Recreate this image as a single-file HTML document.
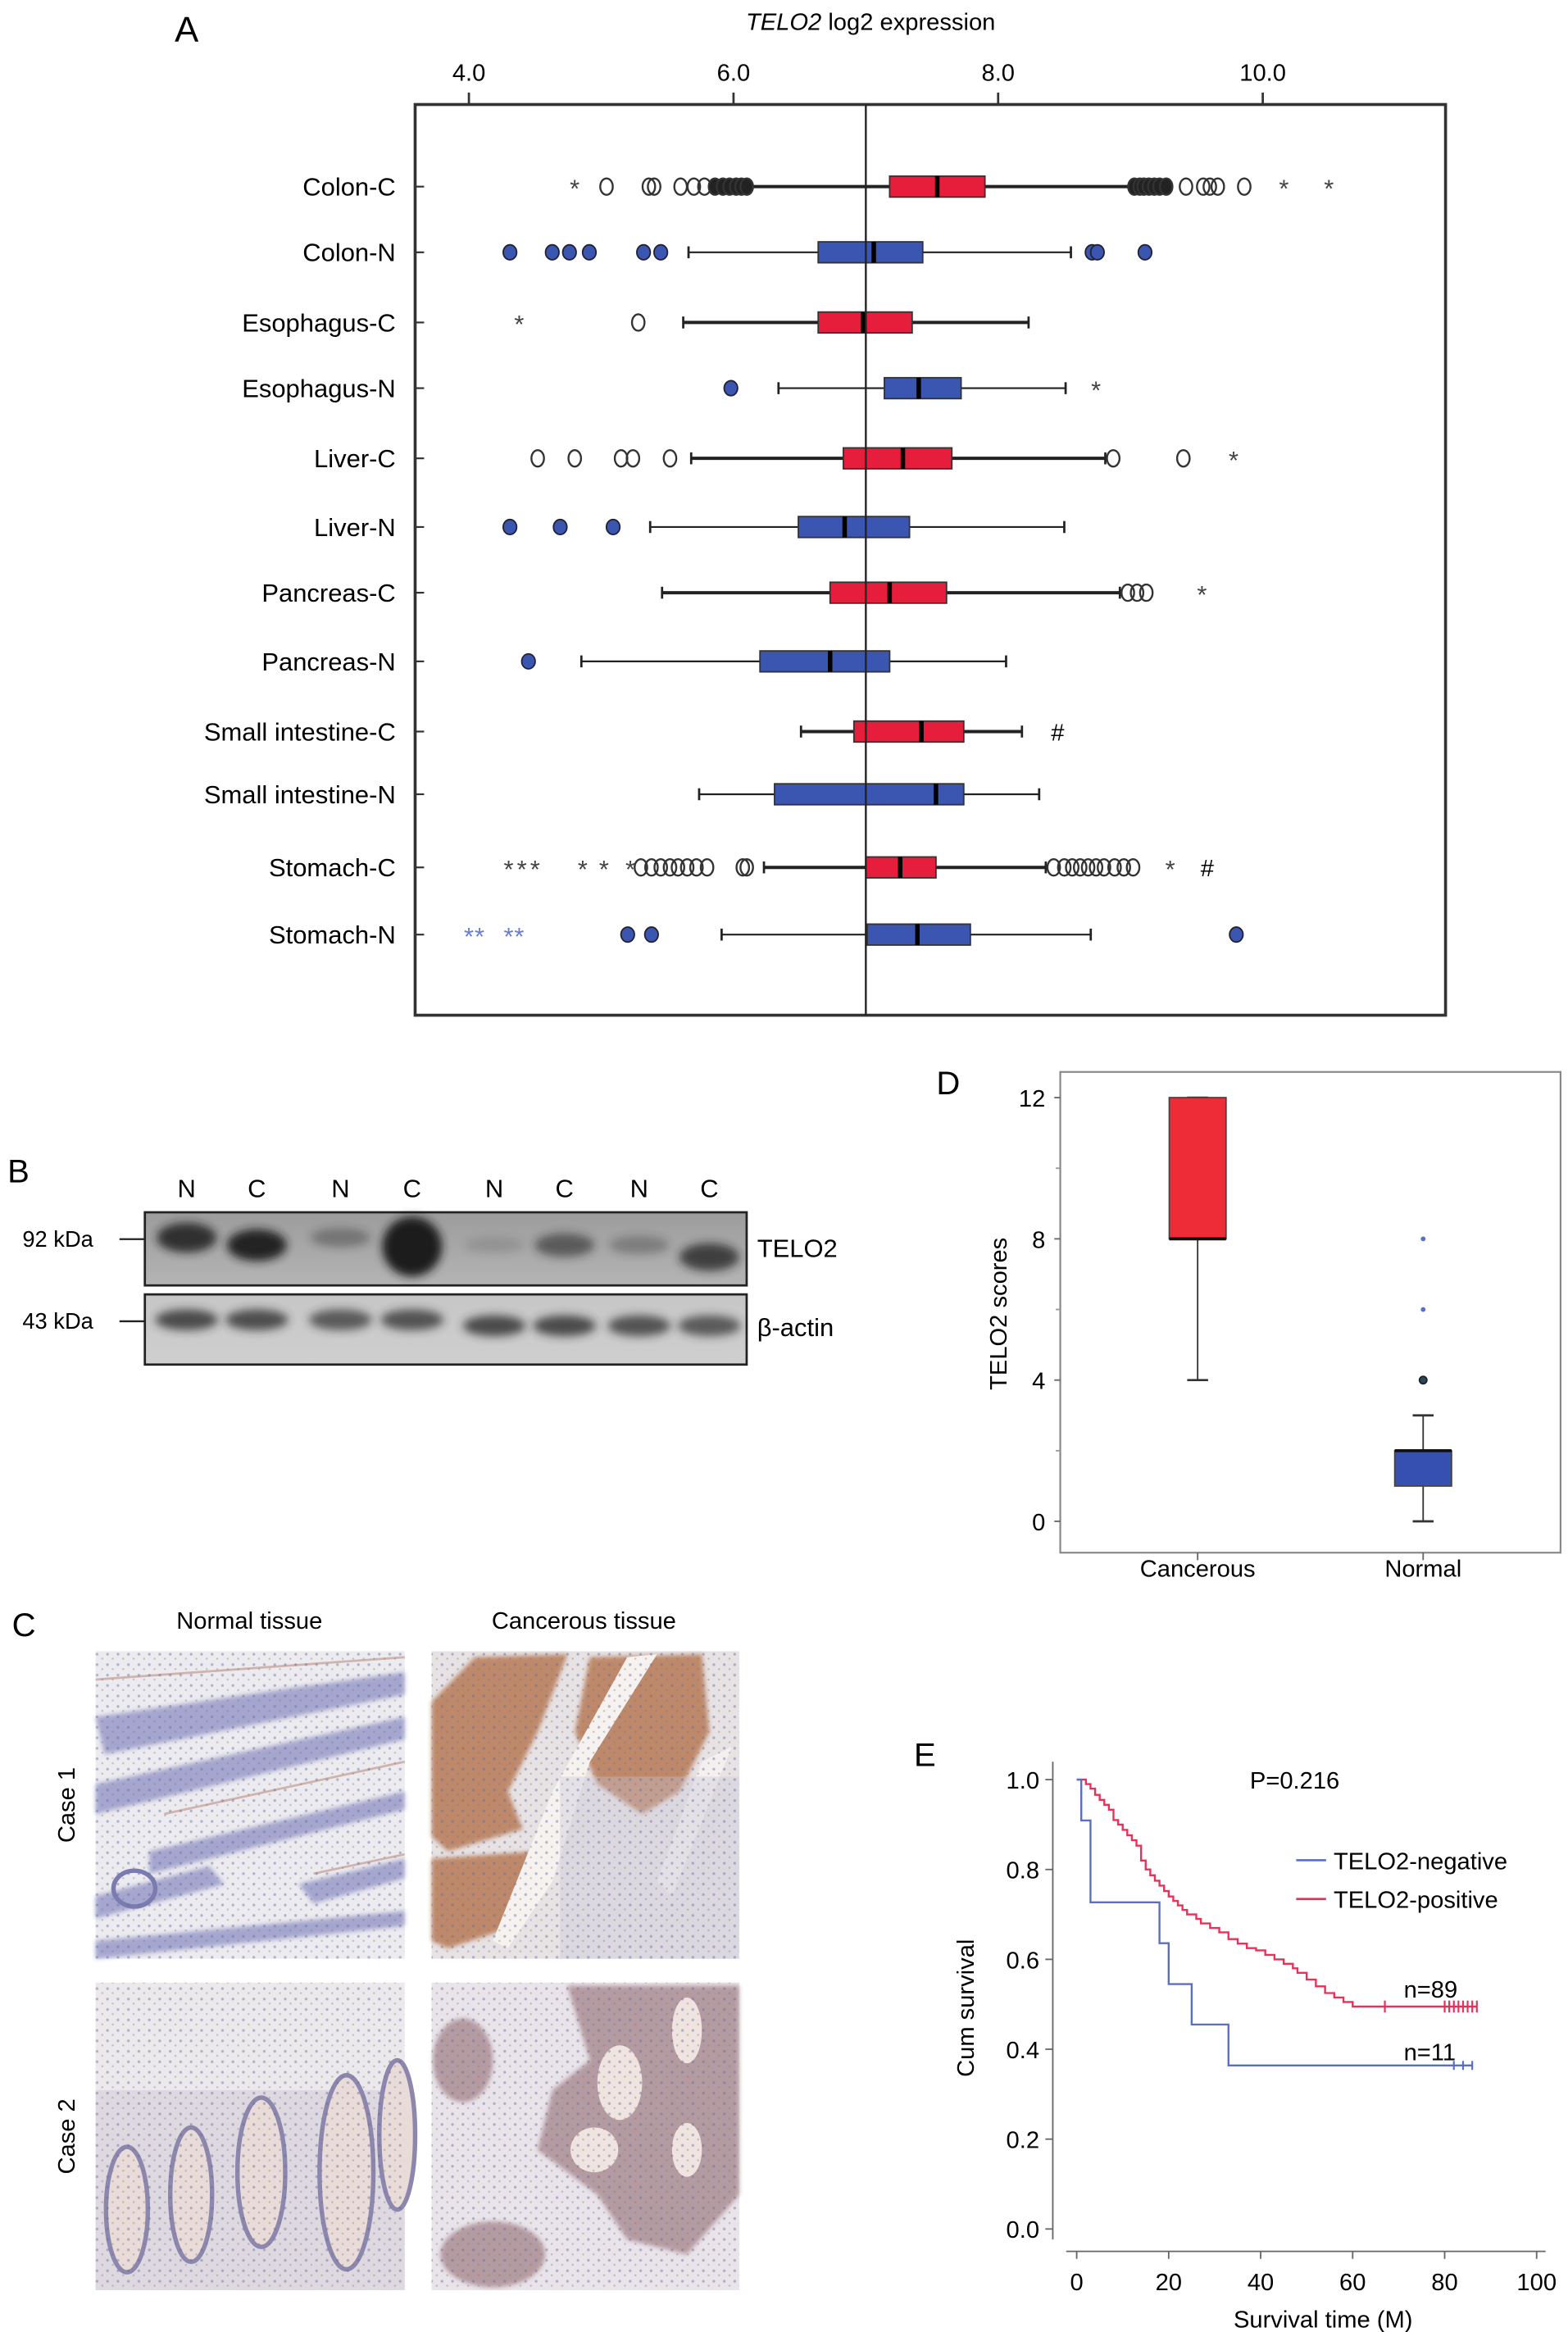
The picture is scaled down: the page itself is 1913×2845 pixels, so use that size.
<!DOCTYPE html>
<html><head><meta charset="utf-8"><style>
html,body{margin:0;padding:0;background:#fff;}
svg{display:block;font-family:"Liberation Sans",Arial,sans-serif;}
</style></head><body>
<svg id="fig" width="1913" height="2845" viewBox="0 0 1050 1562" preserveAspectRatio="none" xmlns="http://www.w3.org/2000/svg">
<defs>
<filter id="blur2" x="-50%" y="-50%" width="200%" height="200%"><feGaussianBlur stdDeviation="3"/></filter>
<filter id="blur1"><feGaussianBlur stdDeviation="1.5"/></filter>
<linearGradient id="blotbg" x1="0" y1="0" x2="0" y2="1"><stop offset="0" stop-color="#9c9c9c"/><stop offset="1" stop-color="#b4b4b4"/></linearGradient>
<linearGradient id="blotbg2" x1="0" y1="0" x2="0" y2="1"><stop offset="0" stop-color="#c6c6c6"/><stop offset="1" stop-color="#cfcfcf"/></linearGradient>
<pattern id="dots" width="7" height="7" patternUnits="userSpaceOnUse"><circle cx="2" cy="2" r="0.9" fill="#6a6a9a" opacity="0.45"/><circle cx="5.5" cy="5" r="0.7" fill="#8a6a6a" opacity="0.35"/></pattern>
</defs>

<g>
<text x="117" y="28" font-size="24">A</text>
<text x="583" y="20" font-size="16" text-anchor="middle"><tspan font-style="italic">TELO2</tspan> log2 expression</text>
<rect x="278" y="70" width="690" height="610" fill="none" stroke="#333" stroke-width="2"/>
<g id="gA"></g>
</g>

<g>
<text x="5" y="792" font-size="22">B</text>
<g font-size="17" text-anchor="middle">
<text x="125" y="802">N</text><text x="172" y="802">C</text><text x="228" y="802">N</text><text x="276" y="802">C</text>
<text x="331" y="802">N</text><text x="378" y="802">C</text><text x="428" y="802">N</text><text x="475" y="802">C</text>
</g>
<rect x="97" y="812" width="403" height="49" fill="url(#blotbg)" stroke="#222" stroke-width="1.5"/>
<rect x="97" y="867" width="403" height="47" fill="url(#blotbg2)" stroke="#222" stroke-width="1.5"/>
<g id="bands"></g>
<text x="15" y="835" font-size="15">92 kDa</text>
<line x1="80" y1="830" x2="97" y2="830" stroke="#222" stroke-width="1.3"/>
<text x="15" y="890" font-size="15">43 kDa</text>
<line x1="80" y1="885" x2="97" y2="885" stroke="#222" stroke-width="1.3"/>
<text x="507" y="842" font-size="17">TELO2</text>
<text x="507" y="895" font-size="17">β-actin</text>
</g>

<g>
<text x="8" y="1096" font-size="22">C</text>
<text x="167" y="1091" font-size="16" text-anchor="middle">Normal tissue</text>
<text x="391" y="1091" font-size="16" text-anchor="middle">Cancerous tissue</text>
<text transform="translate(50,1209) rotate(-90)" font-size="16" text-anchor="middle">Case 1</text>
<text transform="translate(50,1431) rotate(-90)" font-size="16" text-anchor="middle">Case 2</text>
<g>
<rect x="64" y="1106" width="207" height="206" fill="#ecebf0"/>
<g fill="#8e90c4" opacity="0.75" filter="url(#blur1)">
<path d="M64,1150 L200,1130 L271,1120 L271,1135 L70,1175 Z"/>
<path d="M64,1195 L271,1150 L271,1165 L64,1215 Z"/>
<path d="M100,1240 L271,1200 L271,1212 L100,1255 Z"/>
<path d="M64,1270 L140,1250 L150,1262 L64,1285 Z"/>
<path d="M200,1262 L271,1245 L271,1258 L210,1275 Z"/>
<path d="M64,1300 L271,1280 L271,1290 L64,1312 Z"/>
</g>
<g fill="none" stroke="#c49c90" stroke-width="1.5" opacity="0.7">
<path d="M64,1125 L271,1110"/><path d="M110,1215 L271,1180"/><path d="M210,1255 L271,1242"/>
</g>
<ellipse cx="90" cy="1265" rx="14" ry="12" fill="none" stroke="#7a7cb0" stroke-width="3"/>
<rect x="64" y="1106" width="207" height="206" fill="url(#dots)"/>
</g>
<g>
<rect x="289" y="1106" width="206" height="206" fill="#e7e2e4"/>
<g fill="#b77a55" opacity="0.85" filter="url(#blur1)">
<path d="M318,1110 L380,1108 L360,1160 L340,1200 L350,1225 L300,1240 L289,1230 L289,1140 Z"/>
<path d="M395,1110 L470,1108 L475,1160 L455,1200 L430,1215 L400,1195 L385,1160 Z"/>
<path d="M289,1245 L360,1240 L345,1290 L300,1305 L289,1300 Z"/>
</g>
<path d="M420,1110 L440,1108 L395,1180 L370,1260 L340,1305 L330,1300 L370,1200 Z" fill="#f5f2f0"/>
<path d="M470,1180 L490,1170 L450,1270 L440,1260 Z" fill="#f3f0ef"/>
<rect x="375" y="1190" width="120" height="122" fill="#c9c5d6" opacity="0.35"/>
<rect x="289" y="1106" width="206" height="206" fill="url(#dots)"/>
</g>
<g>
<rect x="64" y="1328" width="207" height="206" fill="#ece9ec"/>
<rect x="64" y="1400" width="207" height="134" fill="#cfc9d6" opacity="0.5"/>
<g fill="#e9dcd8" stroke="#8c87ad" stroke-width="3">
<ellipse cx="85" cy="1480" rx="14" ry="42"/>
<ellipse cx="128" cy="1470" rx="14" ry="45"/>
<ellipse cx="175" cy="1455" rx="16" ry="50"/>
<ellipse cx="232" cy="1455" rx="18" ry="65"/>
<ellipse cx="266" cy="1430" rx="12" ry="50"/>
</g>
<rect x="64" y="1328" width="207" height="206" fill="url(#dots)"/>
</g>
<g>
<rect x="289" y="1328" width="206" height="206" fill="#e8e4ea"/>
<g fill="#a8898f" opacity="0.8" filter="url(#blur1)">
<path d="M380,1330 L495,1330 L495,1470 L460,1510 L420,1500 L400,1470 L360,1440 L370,1400 L395,1380 Z"/>
<ellipse cx="310" cy="1380" rx="20" ry="28"/>
<ellipse cx="330" cy="1510" rx="35" ry="22"/>
</g>
<g fill="#efe4e0"><ellipse cx="415" cy="1395" rx="15" ry="25"/><ellipse cx="460" cy="1360" rx="10" ry="22"/><ellipse cx="460" cy="1440" rx="10" ry="18"/><ellipse cx="398" cy="1440" rx="16" ry="15"/></g>
<rect x="289" y="1328" width="206" height="206" fill="url(#dots)"/>
</g>
</g>

<g>
<text x="627" y="733" font-size="22">D</text>
<rect x="710" y="718" width="335" height="322" fill="none" stroke="#888" stroke-width="1.2"/>
<text transform="translate(674,880) rotate(-90)" font-size="16" text-anchor="middle">TELO2 scores</text>
<g id="gD"></g>
</g>

<g>
<text x="612" y="1183" font-size="22">E</text>
<text transform="translate(652,1345) rotate(-90)" font-size="16" text-anchor="middle">Cum survival</text>
<text x="886" y="1559" font-size="16" text-anchor="middle">Survival time (M)</text>
<text x="837" y="1198" font-size="16">P=0.216</text>
<line x1="868" y1="1246" x2="888" y2="1246" stroke="#5a6fc0" stroke-width="1.5"/>
<text x="893" y="1252" font-size="16">TELO2-negative</text>
<line x1="868" y1="1272" x2="888" y2="1272" stroke="#e8305a" stroke-width="1.5"/>
<text x="893" y="1278" font-size="16">TELO2-positive</text>
<text x="940" y="1338" font-size="16">n=89</text>
<text x="940" y="1380" font-size="16">n=11</text>
<g id="gE"></g>
</g>
</svg>
<script>
const rowsA = ["Colon-C","Colon-N","Esophagus-C","Esophagus-N","Liver-C","Liver-N","Pancreas-C","Pancreas-N","Small intestine-C","Small intestine-N","Stomach-C","Stomach-N"];
const q1A = [7.18,6.64,6.64,7.14,6.83,6.49,6.73,6.20,6.91,6.31,7.00,7.01];
const medA = [7.54,7.06,6.98,7.40,7.28,6.84,7.18,6.73,7.42,7.53,7.26,7.39];
const q3A = [7.90,7.43,7.35,7.72,7.65,7.33,7.61,7.18,7.74,7.74,7.53,7.79];
const wloA = [6.13,5.66,5.62,6.34,5.68,5.37,5.46,4.85,6.51,5.74,6.23,5.91];
const whiA = [9.00,8.55,8.23,8.51,8.81,8.50,8.92,8.06,8.18,8.31,8.36,8.70];
const outCircA = [
 [5.04,5.36,5.40,5.60,5.70,5.78,5.86,5.92,5.97,6.02,6.06,6.10,9.03,9.07,9.10,9.14,9.18,9.22,9.27,9.42,9.55,9.60,9.66,9.86],
 [4.31,4.63,4.76,4.91,5.32,5.45,8.71,8.75,9.11],
 [5.28],
 [5.98],
 [4.52,4.80,5.15,5.24,5.52,8.87,9.40],
 [4.31,4.69,5.09],
 [8.98,9.05,9.12],
 [4.45],
 [],
 [],
 [5.30,5.38,5.45,5.52,5.58,5.65,5.72,5.80,6.07,6.10,8.42,8.50,8.56,8.62,8.68,8.74,8.80,8.88,8.95,9.02],
 [5.20,5.38,9.80]
];
const outStarA = [[4.80,10.16,10.50],[],[4.38],[8.74],[9.78],[],[9.54],[],[],[],[4.30,4.40,4.50,4.86,5.02,5.22,9.30],[4.00,4.08,4.30,4.38]];
const hashA = [null,null,null,null,null,null,null,null,8.45,null,9.58,null];
const ticksA = [4.0,6.0,8.0,10.0];
const refA = 7.0;
const groupsD = ["Cancerous","Normal"];
const q1D = [8,1], medD=[8,2], q3D=[12,2], wloD=[4,0], whiD=[12,3];
const outCircD = [[],[4]];
const outStarD = [[],[6,8]];
const ticksD = [0,4,8,12];
const minorD = [2,6,10];
const timesNeg = [0,1,3,18,20,25,33,86];
const survNeg = [1.0,0.909,0.727,0.636,0.545,0.455,0.364,0.364];
const censorNeg = [82,84,86];
const timesPos = [0,2,3,4,5,6,7,8,9,10,11,12,13,14,15,16,17,18,19,20,21,22,23,24,26,27,29,31,33,35,37,39,41,43,45,47,48,50,52,54,56,58,60,87];
const survPos = [1.0,0.99,0.98,0.966,0.955,0.944,0.933,0.91,0.90,0.888,0.876,0.865,0.853,0.82,0.80,0.787,0.775,0.764,0.752,0.74,0.73,0.72,0.71,0.70,0.69,0.68,0.67,0.66,0.645,0.635,0.625,0.62,0.61,0.60,0.59,0.58,0.57,0.555,0.54,0.525,0.515,0.505,0.495,0.495];
const censorPos = [67,80,81,82,83,84,85,86,87];
const ticksEx = [0,20,40,60,80,100];
const ticksEy = [0,0.2,0.4,0.6,0.8,1.0];
const telo2Band = [0.85,0.95,0.35,1.0,0.15,0.55,0.3,0.75];
const actinBand = [0.8,0.78,0.7,0.75,0.8,0.8,0.75,0.7];

const NS="http://www.w3.org/2000/svg";
function mk(tag, at, parent){const e=document.createElementNS(NS,tag);for(const k in at)e.setAttribute(k,at[k]);parent.appendChild(e);return e;}

(function(){
 const g=document.getElementById('gA');
 const xA=v=>314+(v-4)*88.6;
 const rowY=[125,169,216,260,307,353,397,443,490,532,581,626];
 ticksA.forEach(t=>{
  const l=mk('line',{x1:xA(t),y1:62,x2:xA(t),y2:70,stroke:'#333','stroke-width':1.5},g);
  
  
  const tx=mk('text',{x:xA(t),y:54,'font-size':16,'text-anchor':'middle'},g);tx.textContent=t.toFixed(1);
  
  
 });
 rowsA.forEach((r,i)=>{
  const y=rowY[i]; const c=r.endsWith('-C'); const col=c?'#e61e3c':'#3a56b0';
  const lab=mk('text',{x:265,y:y+6,'font-size':17,'text-anchor':'end'},g);lab.textContent=r;
  
  
  mk('line',{x1:278,y1:y,x2:284,y2:y,stroke:'#333','stroke-width':1.2},g);
  const sw=c?2.2:1.2;
  const wl=mk('line',{x1:xA(wloA[i]),y1:y,x2:xA(whiA[i]),y2:y,stroke:'#222','stroke-width':sw},g);
  
  
  [wloA[i],whiA[i]].forEach(v=>mk('line',{x1:xA(v),y1:y-4,x2:xA(v),y2:y+4,stroke:'#222','stroke-width':1.5},g));
  const b=mk('rect',{x:xA(q1A[i]),y:y-7,width:xA(q3A[i])-xA(q1A[i]),height:14,fill:col,stroke:'#333','stroke-width':1},g);
  
  
  const m=mk('line',{x1:xA(medA[i]),y1:y-7,x2:xA(medA[i]),y2:y+7,stroke:'#000','stroke-width':3},g);
  
  
  outCircA[i].forEach(v=>{
   const dense = (i===0 && (Math.abs(v-wloA[i])<0.3 || Math.abs(v-whiA[i])<0.3));
   const o=c?mk('ellipse',{cx:xA(v),cy:y,rx:4.2,ry:5.5,fill:dense?'#222':'none',stroke:'#333','stroke-width':1.3},g)
            :mk('ellipse',{cx:xA(v),cy:y,rx:4.5,ry:5,fill:'#3a56b0',stroke:'#223','stroke-width':1},g);
   
   
  });
  outStarA[i].forEach(v=>{
   const s=mk('text',{x:xA(v),y:y+7,'font-size':17,'text-anchor':'middle',fill:(r==='Stomach-N')?'#6a7ed0':'#444'},g);s.textContent='*';
   
   
  });
  if(hashA[i]!==null){
   const h=mk('text',{x:xA(hashA[i]),y:y+6,'font-size':16,'text-anchor':'middle'},g);h.textContent='#';
   
   
  }
 });
 const ref=mk('line',{x1:xA(refA),y1:70,x2:xA(refA),y2:680,stroke:'#222','stroke-width':1.3},g);
 
 
})();

(function(){
 const g=document.getElementById('bands');
 const lanes=[125,172,228,276,331,378,428,475];
 lanes.forEach((x,i)=>{
  const a=telo2Band[i];
  const e=mk('ellipse',{cx:x,cy:i===3?835:(i%2?834+(i===7?8:0):829+(i>3?5:0)),rx:20,ry:4+a*(i===3?16:7),fill:'#1a1a1a',opacity:a,filter:'url(#blur2)'},g);
  
  
  const f=mk('ellipse',{cx:x,cy:884+(i>3?4:0),rx:21,ry:7,fill:'#2a2a2a',opacity:actinBand[i],filter:'url(#blur2)'},g);
  
  
 });
})();

(function(){
 const g=document.getElementById('gD');
 const yD=v=>1019-v*23.65;
 const xD=[802,953];
 ticksD.forEach(t=>{
  mk('line',{x1:706,y1:yD(t),x2:710,y2:yD(t),stroke:'#666'},g);
  const tx=mk('text',{x:700,y:yD(t)+6,'font-size':16,'text-anchor':'end'},g);tx.textContent=t;
  
  
 });
 minorD.forEach(t=>mk('line',{x1:707,y1:yD(t),x2:710,y2:yD(t),stroke:'#999'},g));
 groupsD.forEach((gr,i)=>{
  const x=xD[i]; const col=i===0?'#ee2c38':'#3550b0';
  mk('line',{x1:x,y1:1040,x2:x,y2:1045,stroke:'#666'},g);
  const lab=mk('text',{x:x,y:1056,'font-size':16,'text-anchor':'middle'},g);lab.textContent=gr;
  
  
  mk('line',{x1:x,y1:yD(wloD[i]),x2:x,y2:yD(whiD[i]),stroke:'#333','stroke-width':1},g);
  [wloD[i],whiD[i]].forEach(v=>mk('line',{x1:x-7,y1:yD(v),x2:x+7,y2:yD(v),stroke:'#333','stroke-width':1.5},g));
  const b=mk('rect',{x:x-19,y:yD(q3D[i]),width:38,height:yD(q1D[i])-yD(q3D[i]),fill:col,stroke:'#444','stroke-width':1},g);
  
  
  const m=mk('line',{x1:x-19,y1:yD(medD[i]),x2:x+19,y2:yD(medD[i]),stroke:'#111','stroke-width':2},g);
  
  
  outCircD[i].forEach(v=>{const o=mk('circle',{cx:x,cy:yD(v),r:2.5,fill:'#345',stroke:'#123'},g);
   
   });
  outStarD[i].forEach(v=>{const o=mk('circle',{cx:x,cy:yD(v),r:1.6,fill:'#5a70c8'},g);
   
   });
 });
})();

(function(){
 const g=document.getElementById('gE');
 const xE=t=>721+t*3.08, yE=s=>1493-s*301;
 const ya=mk('line',{x1:705,y1:1180,x2:705,y2:1500,stroke:'#666','stroke-width':1},g);
 
 
 const xa=mk('line',{x1:714,y1:1508,x2:1035,y2:1508,stroke:'#666','stroke-width':1},g);
 
 
 ticksEy.forEach(t=>{
  mk('line',{x1:700,y1:yE(t),x2:705,y2:yE(t),stroke:'#666'},g);
  const tx=mk('text',{x:696,y:yE(t)+6,'font-size':16,'text-anchor':'end'},g);tx.textContent=t.toFixed(1);
  
  
 });
 ticksEx.forEach(t=>{
  mk('line',{x1:xE(t),y1:1508,x2:xE(t),y2:1513,stroke:'#666'},g);
  const tx=mk('text',{x:xE(t),y:1534,'font-size':16,'text-anchor':'middle'},g);tx.textContent=t;
  
  
 });
 function km(ts,ss,col){
  let d='M'+xE(ts[0])+','+yE(ss[0]);
  for(let i=1;i<ts.length;i++){d+=' H'+xE(ts[i])+' V'+yE(ss[i]);}
  return mk('path',{d:d,fill:'none',stroke:col,'stroke-width':1.3},g);
 }
 const pn=km(timesPos,survPos,'#e8305a');
 
 
 const nn=km(timesNeg,survNeg,'#5a6fc0');
 
 
 const lastP=survPos[survPos.length-1], lastN=survNeg[survNeg.length-1];
 censorPos.forEach(t=>{const c=mk('line',{x1:xE(t),y1:yE(lastP)-4,x2:xE(t),y2:yE(lastP)+4,stroke:'#e8305a','stroke-width':1.2},g);
  
  });
 censorNeg.forEach(t=>{const c=mk('line',{x1:xE(t),y1:yE(lastN)-3,x2:xE(t),y2:yE(lastN)+3,stroke:'#5a6fc0','stroke-width':1.2},g);
  
  });
})();
</script>
</body></html>
